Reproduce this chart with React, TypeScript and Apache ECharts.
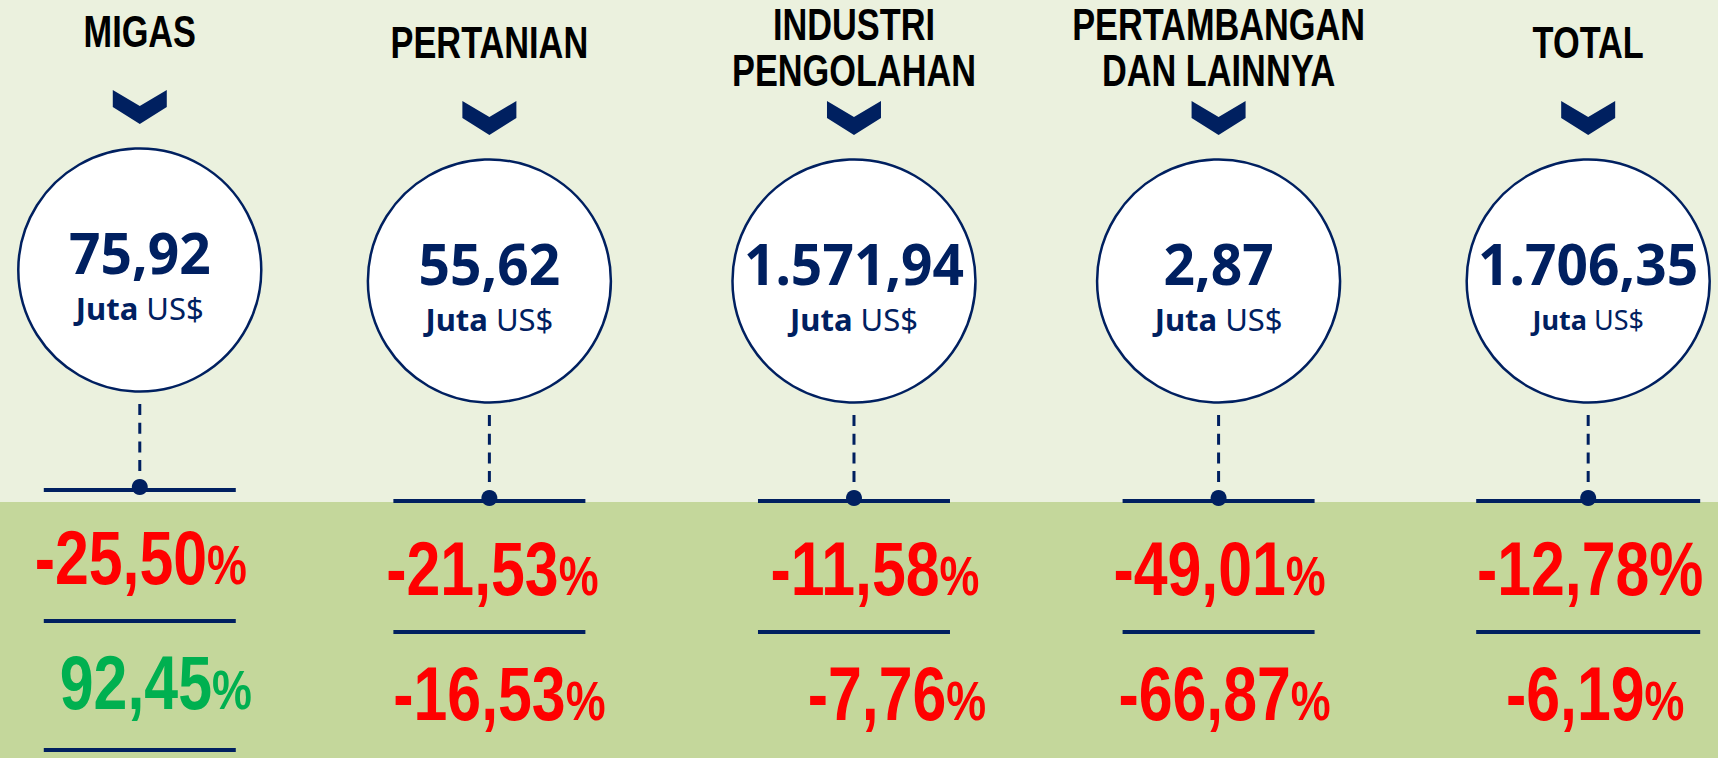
import React, { useEffect, useRef } from "react";
import * as echarts from "echarts";

// ---- data ----
const sectors = ["MIGAS", "PERTANIAN", "INDUSTRI\nPENGOLAHAN", "PERTAMBANGAN\nDAN LAINNYA", "TOTAL"];
const valuesJutaUSD = [75.92, 55.62, 1571.94, 2.87, 1706.35];
const changeRow1 = [-25.5, -21.53, -11.58, -49.01, -12.78];
const changeRow2 = [92.45, -16.53, -7.76, -66.87, -6.19];
const unitLabel = ["Juta", "US$"];

// ---- layout / style (not data) ----
const panelShiftX = [7, -6, -4, -2, 5];
const panelShiftY = [-11, 0, 0, 0, 0];
const row1ShiftX = [1, 3, 21, 1, 2];
const row2ShiftX = [16, 10, 43, 6, 7];
const ruleHalfWidth = [96, 96, 96, 96, 112];
const unitFontSize = [31, 31, 31, 31, 27];
const row1FullPercent = [false, false, false, false, true];

const NAVY = "#002060";
const RED = "#FF0000";
const GREEN = "#00B050";
const NARROW = "'Liberation Sans', Arial, sans-serif";
const SANS = "'Noto Sans', 'Open Sans', sans-serif";

function fmt(v: number): string {
  const [intPart, dec] = Math.abs(v).toFixed(2).split(".");
  const withDots = intPart.replace(/\B(?=(\d{3})+(?!\d))/g, ".");
  return (v < 0 ? "-" : "") + withDots + "," + dec;
}

function pctText(v: number, full: boolean) {
  const color = v < 0 ? RED : GREEN;
  return {
    text: "{n|" + fmt(v) + "}{p|%}",
    rich: {
      n: { font: "bold 76px " + NARROW, fill: color, verticalAlign: "bottom", height: 76 },
      p: full
        ? { font: "bold 76px " + NARROW, fill: color, verticalAlign: "bottom", height: 76 }
        : { font: "bold 56px " + NARROW, fill: color, verticalAlign: "bottom", height: 62 },
    },
  };
}

export default function App() {
  const ref = useRef<HTMLDivElement>(null);

  useEffect(() => {
    if (!ref.current) return;
    const chart = echarts.init(ref.current, undefined, { renderer: "svg" });

    const renderItem = (params: any, api: any) => {
      const i = api.value(0) as number;
      const s = panelShiftY[i];
      const cx = api.coord([i, 0])[0] + panelShiftX[i];
      const Y = (y: number) => api.coord([i, y + s])[1];
      const title = sectors[i];
      const nLines = title.split("\n").length;
      const half = ruleHalfWidth[i];
      const T = Y(101);
      const p1 = pctText(changeRow1[i], row1FullPercent[i]);
      const p2 = pctText(changeRow2[i], false);
      const children: any[] = [
        {
          type: "text",
          x: cx,
          y: Y(nLines > 1 ? 47 : 42),
          scaleX: 0.78,
          style: {
            text: title,
            font: "bold 44px " + NARROW,
            fill: "#000000",
            align: "center",
            verticalAlign: "middle",
            lineHeight: 46,
          },
        },
        {
          type: "polygon",
          shape: {
            points: [
              [cx - 27, T],
              [cx, T + 16],
              [cx + 27, T],
              [cx + 27, T + 17],
              [cx, T + 34],
              [cx - 27, T + 17],
            ],
          },
          style: { fill: NAVY },
        },
        {
          type: "circle",
          shape: { cx, cy: Y(281), r: 121.5 },
          style: { fill: "#FFFFFF", stroke: NAVY, lineWidth: 2.5 },
        },
        {
          type: "text",
          x: cx,
          y: Y(262.5),
          scaleX: 0.95,
          style: {
            text: fmt(valuesJutaUSD[i]),
            font: "bold 58px " + SANS,
            fill: NAVY,
            align: "center",
            verticalAlign: "middle",
          },
        },
        {
          type: "text",
          x: cx,
          y: Y(319),
          style: {
            text: "{b|" + unitLabel[0] + "}{r| " + unitLabel[1] + "}",
            align: "center",
            verticalAlign: "middle",
            rich: {
              b: { font: "bold " + unitFontSize[i] + "px " + SANS, fill: NAVY },
              r: { font: "normal " + unitFontSize[i] + "px " + SANS, fill: NAVY },
            },
          },
        },
        {
          type: "line",
          shape: { x1: cx, y1: Y(415), x2: cx, y2: Y(482) },
          style: { stroke: NAVY, lineWidth: 3, lineDash: [11, 7.7] },
        },
        {
          type: "line",
          shape: { x1: cx - half, y1: Y(501), x2: cx + half, y2: Y(501) },
          style: { stroke: NAVY, lineWidth: 4 },
        },
        {
          type: "circle",
          shape: { cx, cy: Y(498), r: 8 },
          style: { fill: NAVY },
        },
        {
          type: "text",
          x: cx + row1ShiftX[i],
          y: Y(569),
          scaleX: 0.8,
          style: { ...p1, align: "center", verticalAlign: "middle" },
        },
        {
          type: "line",
          shape: { x1: cx - half, y1: Y(632), x2: cx + half, y2: Y(632) },
          style: { stroke: NAVY, lineWidth: 4 },
        },
        {
          type: "text",
          x: cx + row2ShiftX[i],
          y: Y(694),
          scaleX: 0.8,
          style: { ...p2, align: "center", verticalAlign: "middle" },
        },
        {
          type: "line",
          shape: { x1: cx - half, y1: Y(761), x2: cx + half, y2: Y(761) },
          style: { stroke: NAVY, lineWidth: 4 },
        },
      ];
      return { type: "group", children };
    };

    chart.setOption({
      animation: false,
      backgroundColor: "#EBF1DE",
      grid: { left: 0, top: 0, width: 1718, height: 758, outerBoundsMode: "none" },
      // column index axis: columns spaced evenly across the panel
      xAxis: { type: "value", min: -0.3662, max: 4.3718, show: false },
      yAxis: { type: "value", min: 0, max: 758, inverse: true, show: false },
      graphic: [
        {
          type: "rect",
          z: -10,
          shape: { x: 0, y: 502, width: 1718, height: 256 },
          style: { fill: "#C4D79B" },
        },
      ],
      series: [
        {
          type: "custom",
          clip: false,
          renderItem,
          data: sectors.map((_, i) => [i, valuesJutaUSD[i]]),
        },
      ],
    });

    return () => chart.dispose();
  }, []);

  return (
    <div
      ref={ref}
      style={{ position: "fixed", left: 0, top: 0, width: 1718, height: 758 }}
    />
  );
}
